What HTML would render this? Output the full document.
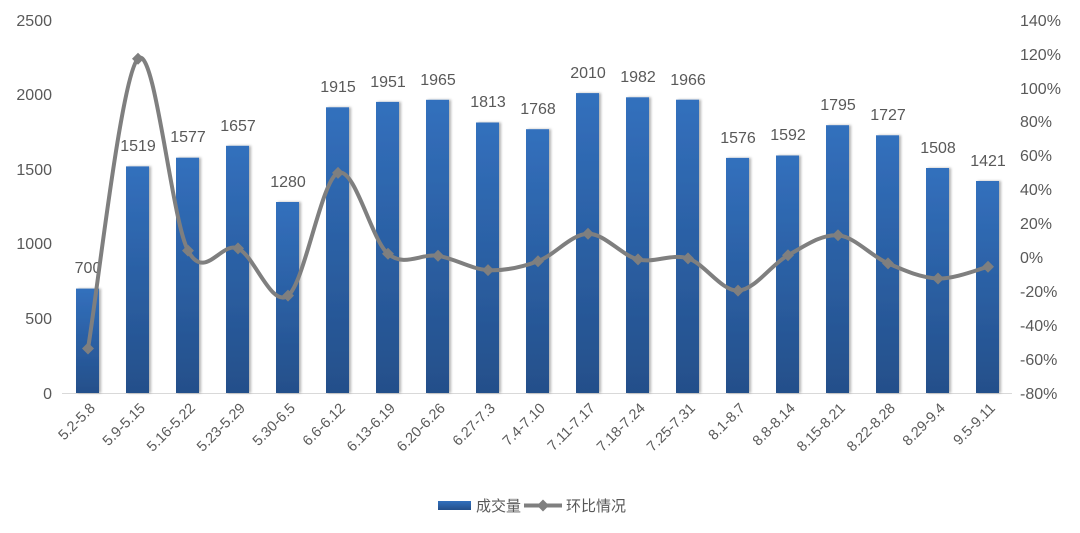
<!DOCTYPE html><html><head><meta charset="utf-8"><style>body{margin:0;background:#fff}svg{display:block}text{font-family:"Liberation Sans","Noto Sans CJK SC",sans-serif;fill:#595959}</style></head><body>
<svg width="1080" height="533" viewBox="0 0 1080 533">
<defs><linearGradient id="g" x1="0" y1="0" x2="0" y2="1"><stop offset="0" stop-color="#3270bd"/><stop offset="1" stop-color="#244f8a"/></linearGradient>
<filter id="s" x="-20%" y="-5%" width="150%" height="110%"><feDropShadow dx="2" dy="0" stdDeviation="1.2" flood-color="#000" flood-opacity="0.3"/></filter></defs>
<g font-size="16" text-anchor="end"><text x="52" y="26">2500</text><text x="52" y="100">2000</text><text x="52" y="175">1500</text><text x="52" y="249">1000</text><text x="52" y="324">500</text><text x="52" y="399">0</text></g>
<g font-size="16"><text x="1020" y="26">140%</text><text x="1020" y="60">120%</text><text x="1020" y="94">100%</text><text x="1020" y="127">80%</text><text x="1020" y="161">60%</text><text x="1020" y="195">40%</text><text x="1020" y="229">20%</text><text x="1020" y="263">0%</text><text x="1020" y="297">-20%</text><text x="1020" y="331">-40%</text><text x="1020" y="365">-60%</text><text x="1020" y="399">-80%</text></g>
<line x1="62" y1="393.5" x2="1012" y2="393.5" stroke="#d9d9d9"/>
<g fill="url(#g)" filter="url(#s)">
<rect x="76" y="288.6" width="23" height="104.4"/><rect x="126" y="166.4" width="23" height="226.6"/><rect x="176" y="157.7" width="23" height="235.3"/><rect x="226" y="145.8" width="23" height="247.2"/><rect x="276" y="202" width="23" height="191"/><rect x="326" y="107.3" width="23" height="285.7"/><rect x="376" y="101.9" width="23" height="291.1"/><rect x="426" y="99.8" width="23" height="293.2"/><rect x="476" y="122.5" width="23" height="270.5"/><rect x="526" y="129.2" width="23" height="263.8"/><rect x="576" y="93.1" width="23" height="299.9"/><rect x="626" y="97.3" width="23" height="295.7"/><rect x="676" y="99.7" width="23" height="293.3"/><rect x="726" y="157.9" width="23" height="235.1"/><rect x="776" y="155.5" width="23" height="237.5"/><rect x="826" y="125.2" width="23" height="267.8"/><rect x="876" y="135.3" width="23" height="257.7"/><rect x="926" y="168" width="23" height="225"/><rect x="976" y="181" width="23" height="212"/>
</g>
<g font-size="16" text-anchor="middle" style="fill:#404040">
<text x="88" y="273">700</text><text x="138" y="151">1519</text><text x="188" y="142">1577</text><text x="238" y="131">1657</text><text x="288" y="187">1280</text><text x="338" y="92">1915</text><text x="388" y="87">1951</text><text x="438" y="85">1965</text><text x="488" y="107">1813</text><text x="538" y="114">1768</text><text x="588" y="78">2010</text><text x="638" y="82">1982</text><text x="688" y="85">1966</text><text x="738" y="143">1576</text><text x="788" y="140">1592</text><text x="838" y="110">1795</text><text x="888" y="120">1727</text><text x="938" y="153">1508</text><text x="988" y="166">1421</text>
</g>
<path d="M88,348.5 C96.3,300.2 121.3,75 138,58.7 C154.7,42.4 171.3,219 188,250.6 C204.7,282.2 221.3,240.9 238,248.4 C254.7,255.9 271.3,308.2 288,295.6 C304.7,283 321.3,179.9 338,172.9 C354.7,165.9 371.3,240 388,253.8 C404.7,267.6 421.3,253.1 438,255.8 C454.7,258.5 471.3,269.2 488,270.1 C504.7,271 521.3,267.3 538,261.2 C554.7,255.1 571.3,234.1 588,233.8 C604.7,233.5 621.3,255.3 638,259.4 C654.7,263.5 671.3,253.2 688,258.4 C704.7,263.6 721.3,291.1 738,290.6 C754.7,290.1 771.3,264.5 788,255.3 C804.7,246.1 821.3,234 838,235.3 C854.7,236.7 871.3,256.2 888,263.4 C904.7,270.6 921.3,277.9 938,278.5 C954.7,279.1 979.7,268.75 988,266.8" fill="none" stroke="#7f7f7f" stroke-width="4" stroke-linejoin="round"/>
<g fill="#7f7f7f">
<path d="M88,342.5l6,6l-6,6l-6,-6z"/><path d="M138,52.7l6,6l-6,6l-6,-6z"/><path d="M188,244.6l6,6l-6,6l-6,-6z"/><path d="M238,242.4l6,6l-6,6l-6,-6z"/><path d="M288,289.6l6,6l-6,6l-6,-6z"/><path d="M338,166.9l6,6l-6,6l-6,-6z"/><path d="M388,247.8l6,6l-6,6l-6,-6z"/><path d="M438,249.8l6,6l-6,6l-6,-6z"/><path d="M488,264.1l6,6l-6,6l-6,-6z"/><path d="M538,255.2l6,6l-6,6l-6,-6z"/><path d="M588,227.8l6,6l-6,6l-6,-6z"/><path d="M638,253.4l6,6l-6,6l-6,-6z"/><path d="M688,252.4l6,6l-6,6l-6,-6z"/><path d="M738,284.6l6,6l-6,6l-6,-6z"/><path d="M788,249.3l6,6l-6,6l-6,-6z"/><path d="M838,229.3l6,6l-6,6l-6,-6z"/><path d="M888,257.4l6,6l-6,6l-6,-6z"/><path d="M938,272.5l6,6l-6,6l-6,-6z"/><path d="M988,260.8l6,6l-6,6l-6,-6z"/>
</g>
<g font-size="14.5" text-anchor="end">
<text transform="translate(96,409) rotate(-45)">5.2-5.8</text><text transform="translate(146,409) rotate(-45)">5.9-5.15</text><text transform="translate(196,409) rotate(-45)">5.16-5.22</text><text transform="translate(246,409) rotate(-45)">5.23-5.29</text><text transform="translate(296,409) rotate(-45)">5.30-6.5</text><text transform="translate(346,409) rotate(-45)">6.6-6.12</text><text transform="translate(396,409) rotate(-45)">6.13-6.19</text><text transform="translate(446,409) rotate(-45)">6.20-6.26</text><text transform="translate(496,409) rotate(-45)">6.27-7.3</text><text transform="translate(546,409) rotate(-45)">7.4-7.10</text><text transform="translate(596,409) rotate(-45)">7.11-7.17</text><text transform="translate(646,409) rotate(-45)">7.18-7.24</text><text transform="translate(696,409) rotate(-45)">7.25-7.31</text><text transform="translate(746,409) rotate(-45)">8.1-8.7</text><text transform="translate(796,409) rotate(-45)">8.8-8.14</text><text transform="translate(846,409) rotate(-45)">8.15-8.21</text><text transform="translate(896,409) rotate(-45)">8.22-8.28</text><text transform="translate(946,409) rotate(-45)">8.29-9.4</text><text transform="translate(996,409) rotate(-45)">9.5-9.11</text>
</g>
<rect x="438" y="501" width="33" height="9" fill="url(#g)"/>
<text x="476" y="511" font-size="15">成交量</text>
<line x1="524" y1="505.5" x2="562" y2="505.5" stroke="#7f7f7f" stroke-width="4"/>
<path d="M543,499.5l6,6l-6,6l-6,-6z" fill="#7f7f7f"/>
<text x="566" y="511" font-size="15">环比情况</text>
</svg></body></html>
